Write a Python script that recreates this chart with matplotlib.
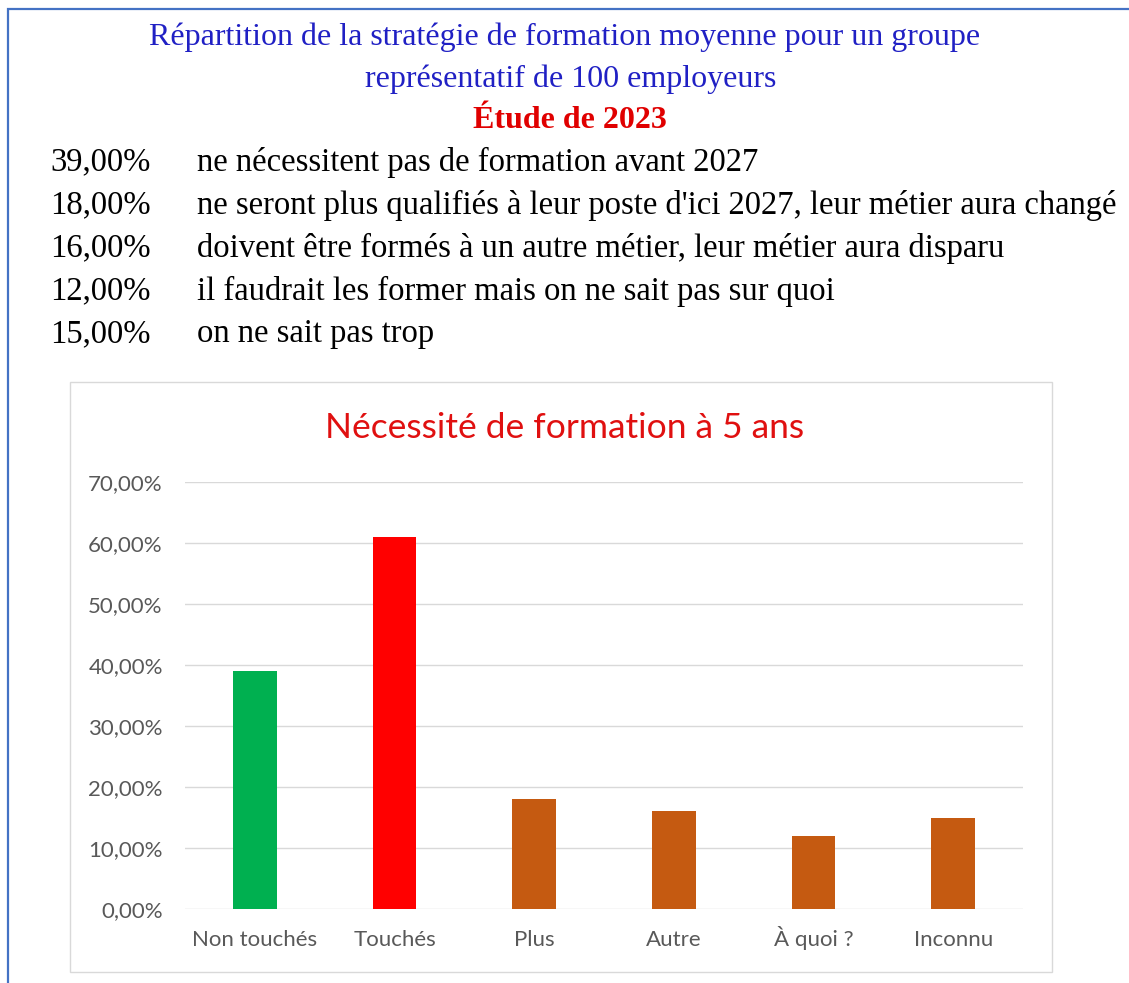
import matplotlib
matplotlib.use('Agg')
from matplotlib import pyplot as plt
from matplotlib.patches import Rectangle
from matplotlib.ticker import FuncFormatter

# header text
title_lines = ['Répartition de la stratégie de formation moyenne pour un groupe',
               'représentatif de 100 employeurs']
subtitle = 'Étude de 2023'
detail_values = [39, 18, 16, 12, 15]
detail_labels = ['ne nécessitent pas de formation avant 2027',
                 "ne seront plus qualifiés à leur poste d'ici 2027, leur métier aura changé",
                 'doivent être formés à un autre métier, leur métier aura disparu',
                 'il faudrait les former mais on ne sait pas sur quoi',
                 'on ne sait pas trop']

# bar chart data
chart_title = 'Nécessité de formation à 5 ans'
categories = ['Non touchés', 'Touchés', 'Plus', 'Autre', 'À quoi ?', 'Inconnu']
values = [0.39, 0.61, 0.18, 0.16, 0.12, 0.15]
bar_colors = ['#00B050', '#FF0000', '#C55A11', '#C55A11', '#C55A11', '#C55A11']

W, H = 1129, 983
fig = plt.figure(figsize=(W / 100, H / 100), dpi=100)

def fx(px):
    return px / W

def fy(py):
    return 1 - py / H

# outer blue frame (cut off at right and bottom)
fig.patches.append(Rectangle((fx(8), fy(H + 20)), fx(W + 20), fy(9) - fy(H + 20),
                             transform=fig.transFigure, fill=False,
                             edgecolor='#4472C4', linewidth=1.6))
# chart frame
fig.patches.append(Rectangle((fx(70), fy(972)), fx(1052 - 70), fy(382) - fy(972),
                             transform=fig.transFigure, fill=False,
                             edgecolor='#D9D9D9', linewidth=1.0))

serif = 'Liberation Serif'
fig.text(fx(565), fy(37), title_lines[0], ha='center', va='center', family=serif,
         fontsize=23, color='#2020C4')
fig.text(fx(571), fy(79), title_lines[1], ha='center', va='center', family=serif,
         fontsize=23, color='#2020C4')
fig.text(fx(570), fy(121), subtitle, ha='center', va='center', family=serif,
         fontsize=23, color='#E00000', fontweight='bold')

for i, (v, lab) in enumerate(zip(detail_values, detail_labels)):
    y = fy(162 + i * 43)
    fig.text(fx(50), y, f'{v:.2f}%'.replace('.', ','), ha='left', va='center',
             family=serif, fontsize=23.5, color='black')
    fig.text(fx(197), y, lab, ha='left', va='center', family=serif,
             fontsize=23.5, color='black')

sans = 'Lato'
fig.text(fx(565), fy(428), chart_title, ha='center', va='center', family=sans,
         fontsize=25.5, color='#E01010')

ax = fig.add_axes([fx(185), fy(909), fx(1023 - 185), fy(482) - fy(909)])
x = range(len(categories))
ax.bar(x, values, width=0.315, color=bar_colors, zorder=3)
ax.set_ylim(0, 0.7)
ax.set_xlim(-0.5, len(categories) - 0.5)
ax.set_yticks([i / 10 for i in range(8)])
ax.yaxis.set_major_formatter(FuncFormatter(lambda v, p: f'{v * 100:.2f}%'.replace('.', ',')))
ax.set_xticks(list(x))
ax.set_xticklabels(categories, va='baseline')
ax.grid(axis='y', color='#D9D9D9', linewidth=1.0, zorder=0)
for s in ax.spines.values():
    s.set_visible(False)
ax.tick_params(axis='both', length=0, labelsize=16, labelcolor='#595959')
ax.tick_params(axis='y', pad=16)
ax.tick_params(axis='x', pad=27)
for t in ax.get_xticklabels() + ax.get_yticklabels():
    t.set_family(sans)

fig.savefig('out.png', dpi=100)
